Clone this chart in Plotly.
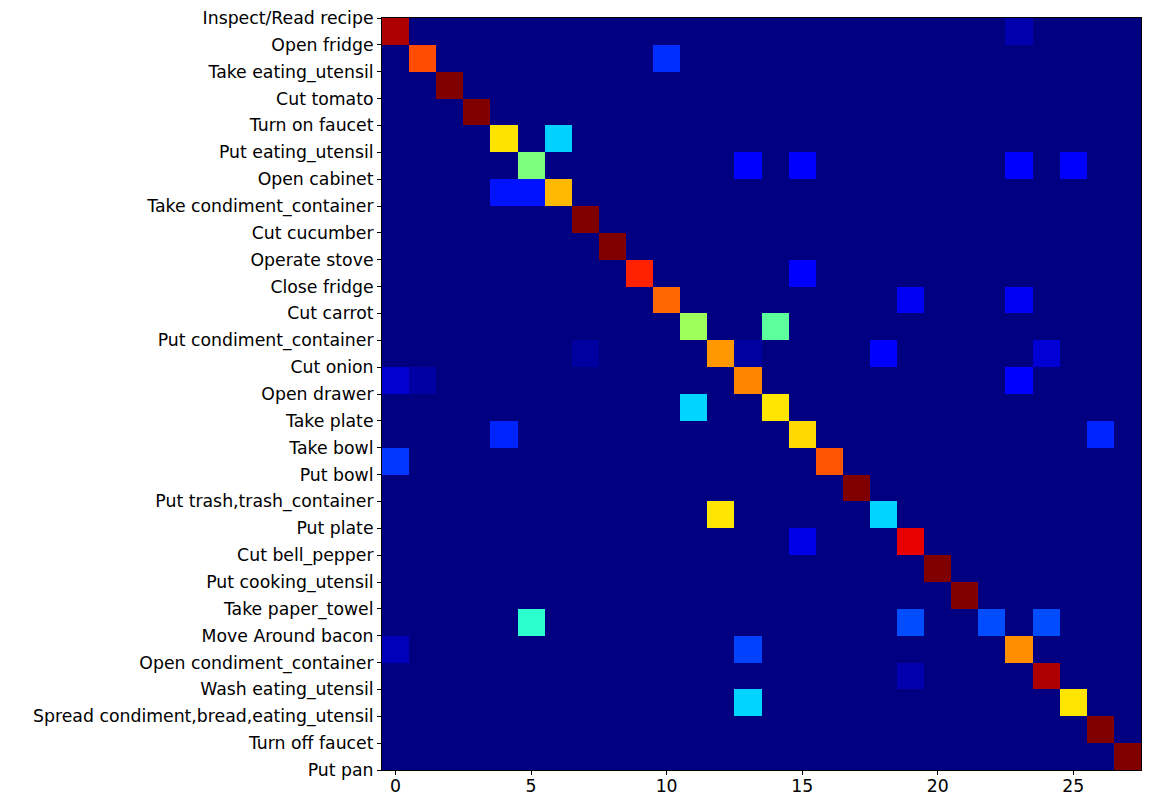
import plotly.graph_objects as go

labels = ["Inspect/Read recipe", "Open fridge", "Take eating_utensil", "Cut tomato",
          "Turn on faucet", "Put eating_utensil", "Open cabinet", "Take condiment_container",
          "Cut cucumber", "Operate stove", "Close fridge", "Cut carrot",
          "Put condiment_container", "Cut onion", "Open drawer", "Take plate", "Take bowl",
          "Put bowl", "Put trash,trash_container", "Put plate", "Cut bell_pepper",
          "Put cooking_utensil", "Take paper_towel", "Move Around bacon",
          "Open condiment_container", "Wash eating_utensil",
          "Spread condiment,bread,eating_utensil", "Turn off faucet", "Put pan"]

n_classes = 28
x_ticks = [0, 5, 10, 15, 20, 25]

# non-zero cells of each row: predicted class index and normalised value
row_cols = [[0, 23], [1, 10], [2], [3], [4, 6], [5, 13, 15, 23, 25], [4, 5, 6], [7], [8],
            [9, 15], [10, 19, 23], [11, 14], [7, 12, 13, 18, 24], [0, 1, 13, 23], [11, 14],
            [4, 15, 26], [0, 16], [17], [12, 18], [15, 19], [20], [21], [5, 19, 22, 24],
            [0, 13, 23], [19, 24], [13, 25], [26], [27]]
row_vals = [[0.96, 0.04], [0.83, 0.17], [1.0], [1.0], [0.67, 0.33],
            [0.5, 0.125, 0.125, 0.125, 0.125], [0.143, 0.143, 0.714], [1.0], [1.0],
            [0.875, 0.125], [0.8, 0.1, 0.1], [0.54, 0.46], [0.028, 0.75, 0.028, 0.12, 0.074],
            [0.07, 0.03, 0.77, 0.12], [0.333, 0.667], [0.16, 0.68, 0.16], [0.18, 0.82],
            [1.0], [0.667, 0.333], [0.09, 0.91], [1.0], [1.0], [0.4, 0.2, 0.2, 0.2],
            [0.05, 0.19, 0.76], [0.04, 0.96], [0.333, 0.667], [1.0], [1.0]]

z = [[0.0] * n_classes for _ in range(n_classes)]
for r, (cols, vals) in enumerate(zip(row_cols, row_vals)):
    for c, v in zip(cols, vals):
        z[r][c] = v

# matplotlib "jet"
jet = [[0.0, 'rgb(0,0,128)'], [0.11, 'rgb(0,0,255)'], [0.125, 'rgb(0,0,255)'],
       [0.34, 'rgb(0,219,255)'], [0.35, 'rgb(0,230,247)'], [0.375, 'rgb(21,255,226)'],
       [0.64, 'rgb(239,255,8)'], [0.65, 'rgb(247,245,0)'], [0.66, 'rgb(255,236,0)'],
       [0.89, 'rgb(255,19,0)'], [0.91, 'rgb(232,0,0)'], [1.0, 'rgb(128,0,0)']]

fig = go.Figure(go.Heatmap(z=z, x=list(range(n_classes)), y=list(range(n_classes)),
                           colorscale=jet, zmin=0, zmax=1, showscale=False))

fig.update_xaxes(range=[-0.5, n_classes - 0.5], tickvals=x_ticks, ticks='outside',
                 ticklen=4, tickcolor='black', showline=True, mirror=True,
                 linecolor='black', linewidth=1, showgrid=False, zeroline=False,
                 automargin=False, ticklabeloverflow='allow', ticklabelstandoff=-4)
fig.update_yaxes(range=[n_classes - 0.5, -0.5],
                 tickvals=[k - 0.5 for k in range(len(labels))], ticktext=labels,
                 ticks='outside', ticklen=4, tickcolor='black', showline=True, mirror=True,
                 linecolor='black', linewidth=1, showgrid=False, zeroline=False,
                 automargin=False, ticklabeloverflow='allow')

# page body adds 8px, so the figure is a bit smaller than the window
fig.update_layout(width=1136, height=788,
                  margin=dict(l=374, r=3, t=10, b=26, pad=0),
                  font=dict(family='DejaVu Sans', size=17.3, color='black'),
                  paper_bgcolor='white', plot_bgcolor='white')

fig.write_html("out.html")
